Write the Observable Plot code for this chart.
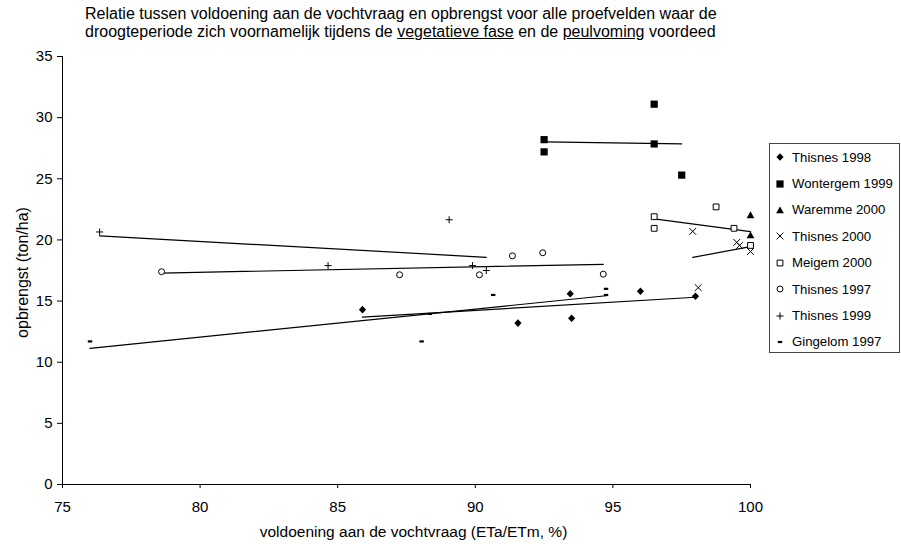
<!DOCTYPE html>
<html>
<head>
<meta charset="utf-8">
<script src="https://cdn.jsdelivr.net/npm/d3@7"></script>
<script src="https://cdn.jsdelivr.net/npm/@observablehq/plot@0.6"></script>
<style>
  html, body { margin: 0; padding: 0; background: #fff; }
  body { font-family: "Liberation Sans", Arial, sans-serif; color: #000; }
  #wrap { position: relative; width: 901px; height: 544px; overflow: hidden; }
  #title { position: absolute; left: 85px; top: 5px; font-size: 16px; line-height: 18px; white-space: nowrap; }
  #chart { position: absolute; left: 0; top: 44px; }
  #legend { position: absolute; left: 769px; top: 143px; width: 131px; height: 210px; box-sizing: border-box;
            border: 1px solid #444; background: #fff; padding-top: 0; }
  .row { position: relative; height: 26.4px; display: flex; align-items: center; font-size: 13.2px; white-space: nowrap; }
  .row svg { position: absolute; left: 4px; top: 7.2px; }
  .row span { position: absolute; left: 22px; }
</style>
</head>
<body>
<div id="wrap">
  <div id="title">Relatie tussen voldoening aan de vochtvraag en opbrengst voor alle proefvelden waar de<br>droogteperiode zich voornamelijk tijdens de <u>vegetatieve fase</u> en de <u>peulvoming</u> voordeed</div>
  <div id="chart"></div>
  <div id="legend"></div>
</div>
<script>
// ---- data ----
const seriesNames = ["Thisnes 1998", "Wontergem 1999", "Waremme 2000", "Thisnes 2000", "Meigem 2000", "Thisnes 1997", "Thisnes 1999", "Gingelom 1997"];

const thisnes1998X = [85.9, 91.55, 93.45, 93.5, 96.0, 98.0];
const thisnes1998Y = [14.3, 13.2, 15.6, 13.6, 15.8, 15.4];

const wontergem1999X = [96.5, 92.5, 92.5, 96.5, 97.5];
const wontergem1999Y = [31.1, 28.2, 27.2, 27.85, 25.3];

const waremme2000X = [100, 100];
const waremme2000Y = [22.05, 20.4];

const thisnes2000X = [97.9, 99.5, 99.6, 100, 98.1];
const thisnes2000Y = [20.7, 19.8, 19.55, 19.05, 16.1];

const meigem2000X = [98.75, 96.5, 96.5, 99.4, 100];
const meigem2000Y = [22.7, 21.9, 20.95, 20.95, 19.55];

const thisnes1997X = [78.6, 87.25, 90.15, 91.35, 92.45, 94.65];
const thisnes1997Y = [17.4, 17.15, 17.15, 18.7, 18.95, 17.2];

const thisnes1999X = [76.35, 84.65, 89.05, 89.9, 90.4];
const thisnes1999Y = [20.65, 17.9, 21.65, 17.9, 17.5];

const gingelom1997X = [76.0, 88.05, 88.35, 90.65, 94.75, 94.75];
const gingelom1997Y = [11.7, 11.7, 13.95, 15.5, 16.0, 15.5];

// series without a trend line in the reference
const noTrend = ["Waremme 2000"];

const xTicks = [75, 80, 85, 90, 95, 100];
const yTicks = [0, 5, 10, 15, 20, 25, 30, 35];

const xTitle = "voldoening aan de vochtvraag (ETa/ETm, %)";
const yTitle = "opbrengst (ton/ha)";

// ---- marker shapes (Excel-like) ----
const symbols = {
  diamond:  {draw(c) { c.moveTo(0, -3.8); c.lineTo(3.6, 0); c.lineTo(0, 3.8); c.lineTo(-3.6, 0); c.closePath(); }},
  square:   {draw(c) { c.rect(-3.6, -3.6, 7.2, 7.2); }},
  triangle: {draw(c) { c.moveTo(0, -3.6); c.lineTo(3.9, 3.3); c.lineTo(-3.9, 3.3); c.closePath(); }},
  times:    {draw(c) { c.moveTo(-3.4, -3.4); c.lineTo(3.4, 3.4); c.moveTo(3.4, -3.4); c.lineTo(-3.4, 3.4); }},
  osquare:  {draw(c) { c.rect(-2.9, -2.9, 5.8, 5.8); }},
  circle:   {draw(c) { c.moveTo(3, 0); c.arc(0, 0, 3, 0, 2 * Math.PI); c.closePath(); }},
  plus:     {draw(c) { c.moveTo(-3.5, 0); c.lineTo(3.5, 0); c.moveTo(0, -3.5); c.lineTo(0, 3.5); }},
  dash:     {draw(c) { c.rect(-2.2, -1.1, 4.4, 2.2); }}
};

const seriesDefs = [
  {name: seriesNames[0], xs: thisnes1998X,   ys: thisnes1998Y,   symbol: symbols.diamond,  fill: "#000",  stroke: "none"},
  {name: seriesNames[1], xs: wontergem1999X, ys: wontergem1999Y, symbol: symbols.square,   fill: "#000",  stroke: "none"},
  {name: seriesNames[2], xs: waremme2000X,   ys: waremme2000Y,   symbol: symbols.triangle, fill: "#000",  stroke: "none"},
  {name: seriesNames[3], xs: thisnes2000X,   ys: thisnes2000Y,   symbol: symbols.times,    fill: "none",  stroke: "#000"},
  {name: seriesNames[4], xs: meigem2000X,    ys: meigem2000Y,    symbol: symbols.osquare,  fill: "#fff",  stroke: "#000"},
  {name: seriesNames[5], xs: thisnes1997X,   ys: thisnes1997Y,   symbol: symbols.circle,   fill: "#fff",  stroke: "#000"},
  {name: seriesNames[6], xs: thisnes1999X,   ys: thisnes1999Y,   symbol: symbols.plus,     fill: "none",  stroke: "#000"},
  {name: seriesNames[7], xs: gingelom1997X,  ys: gingelom1997Y,  symbol: symbols.dash,     fill: "#000",  stroke: "none"}
];

const rows = seriesDefs.flatMap(s => s.xs.map((x, i) => ({series: s.name, x, y: s.ys[i]})));
const trendRows = rows.filter(d => !noTrend.includes(d.series));

const fontFamily = "'Liberation Sans', Arial, sans-serif";

const chart = Plot.plot({
  width: 901,
  height: 500,
  marginLeft: 62,
  marginRight: 151,
  marginTop: 12,
  marginBottom: 60,
  style: {fontFamily, fontSize: "15px", color: "#000", background: "transparent", overflow: "visible"},
  x: {domain: [75, 100]},
  y: {domain: [0, 35]},
  marks: [
    Plot.axisY({ticks: yTicks, tickSize: 5, tickPadding: 5, label: null, fontSize: 15}),
    Plot.axisX({ticks: xTicks, tickSize: 4, tickPadding: 13, label: null, fontSize: 15}),
    Plot.ruleX([75], {stroke: "#000"}),
    Plot.ruleY([0], {stroke: "#000"}),
    Plot.linearRegressionY(trendRows, {x: "x", y: "y", z: "series", stroke: "#000", strokeWidth: 1.2, ci: 0}),
    ...seriesDefs.map(s => Plot.dot(rows.filter(d => d.series === s.name), {
      x: "x", y: "y", r: 4, symbol: s.symbol, fill: s.fill, stroke: s.stroke, strokeWidth: 1
    })),
    Plot.text([yTitle], {frameAnchor: "left", rotate: -90, dx: -40, dy: 2, textAnchor: "middle", lineAnchor: "middle", fontSize: 16, fill: "#000"}),
    Plot.text([xTitle], {frameAnchor: "bottom", dx: 7, dy: 48, textAnchor: "middle", lineAnchor: "middle", fontSize: 15.5, fill: "#000"})
  ]
});
document.getElementById("chart").appendChild(chart);

// ---- legend ----
const legend = document.getElementById("legend");
for (const s of seriesDefs) {
  const row = document.createElement("div");
  row.className = "row";
  const p = d3.path();
  s.symbol.draw(p);
  row.innerHTML = `<svg width="12" height="12" viewBox="-6 -6 12 12"><path d="${p.toString()}" fill="${s.fill}" stroke="${s.stroke}" stroke-width="1"></path></svg><span>${s.name}</span>`;
  legend.appendChild(row);
}
</script>
</body>
</html>
